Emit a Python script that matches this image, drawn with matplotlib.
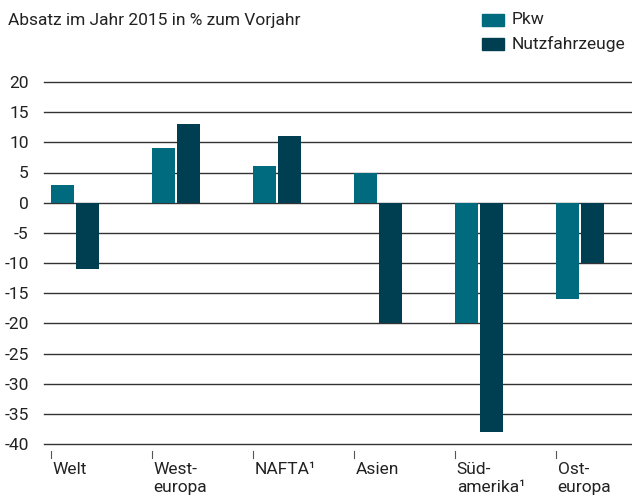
import numpy as np
import matplotlib.pyplot as plt

plt.rcParams['font.family'] = ['Roboto', 'DejaVu Sans']

# Absatzveränderung 2015 gegenüber Vorjahr
regionen = ["Welt", "West-\neuropa", "NAFTA¹", "Asien", "Süd-\namerika¹", "Ost-\neuropa"]
pkw = [3, 9, 6, 5, -20, -16]
nutzfahrzeuge = [-11, 13, 11, -20, -38, -10]

c_pkw = "#006a7e"
c_nfz = "#003f52"
txt = "#222222"
fs = 12.5

fig = plt.figure(figsize=(6.32, 5.0), dpi=100)
ax = fig.add_axes([44 / 632, 1 - 444 / 500, 588 / 632, 362 / 500])

x = np.arange(len(regionen))
w = 0.228
gap = 0.02
ax.bar(x, pkw, width=w, align="edge", color=c_pkw, zorder=3, label="Pkw")
ax.bar(x + w + gap, nutzfahrzeuge, width=w, align="edge", color=c_nfz, zorder=3,
       label="Nutzfahrzeuge")

ax.set_ylim(-40, 20)
ax.set_xlim(-0.07, 5.75)
ax.set_yticks(np.arange(-40, 21, 5))
ax.set_yticklabels([str(v) for v in range(-40, 21, 5)], fontsize=fs, color=txt)
for v in range(-40, 21, 5):
    ax.axhline(v, color="#333333", lw=1.0, zorder=1, clip_on=False)
for s in ax.spines.values():
    s.set_visible(False)
ax.tick_params(axis="y", length=0, pad=11)
ax.tick_params(axis="x", length=0)
ax.set_xticks([])

# kleine Markierungen unter der Achse und linksbündige Beschriftung
for xi, lab in zip(x, regionen):
    ax.plot([xi, xi], [-41.1, -42.4], color="#555555", lw=0.8, clip_on=False)
    ax.text(xi + 0.015, -43.0, lab, ha="left", va="top", fontsize=fs, color=txt,
            linespacing=1.28)

fig.text(8 / 632, 1 - 20 / 500, "Absatz im Jahr 2015 in % zum Vorjahr",
         fontsize=fs, color=txt, va="center", ha="left")

# Legende
for i, (lab, col) in enumerate([("Pkw", c_pkw), ("Nutzfahrzeuge", c_nfz)]):
    yc = 1 - (20 + 24 * i) / 500
    fig.patches.append(plt.Rectangle((482 / 632, yc - 6 / 500), 22 / 632, 12 / 500,
                                     transform=fig.transFigure, color=col))
    fig.text(512 / 632, yc, lab, fontsize=fs, color=txt, va="center", ha="left")

fig.savefig("out.png", dpi=100)
